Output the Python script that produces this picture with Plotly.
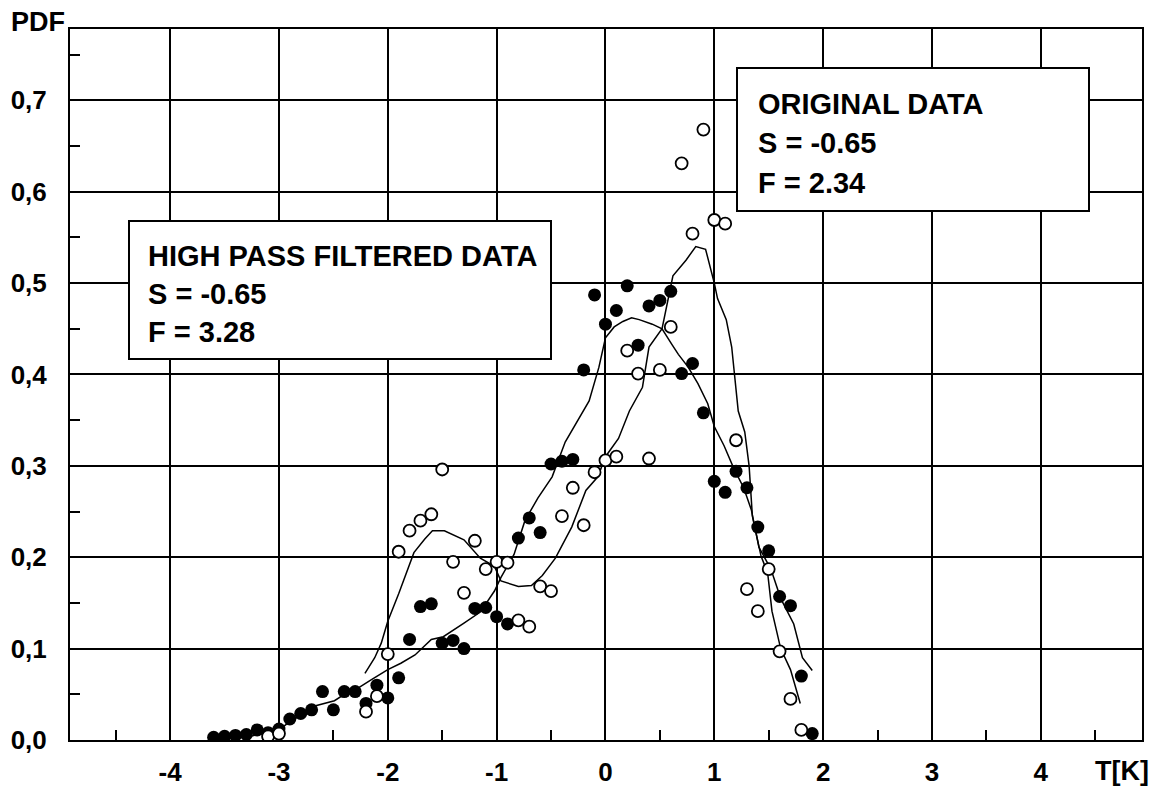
import plotly.graph_objects as go

# ---- data -------------------------------------------------------------
# high pass filtered data (filled circles)
hp_x = [-3.6, -3.5, -3.4, -3.3, -3.2, -3.1, -3.0, -2.9, -2.8, -2.7, -2.6, -2.5,
        -2.4, -2.3, -2.2, -2.1, -2.0, -1.9, -1.8, -1.7, -1.6, -1.5, -1.4, -1.3,
        -1.2, -1.1, -1.0, -0.9, -0.8, -0.7, -0.6, -0.5, -0.4, -0.3, -0.2, -0.1,
        0.0, 0.1, 0.2, 0.3, 0.4, 0.5, 0.6, 0.7, 0.8, 0.9, 1.0, 1.1, 1.2, 1.3,
        1.4, 1.5, 1.6, 1.7, 1.8, 1.9]
hp_y = [0.003, 0.004, 0.005, 0.006, 0.011, 0.008, 0.012, 0.023, 0.029, 0.033, 0.053, 0.033,
        0.053, 0.053, 0.040, 0.060, 0.046, 0.068, 0.110, 0.146, 0.149, 0.106, 0.109, 0.100,
        0.144, 0.145, 0.135, 0.127, 0.221, 0.243, 0.227, 0.302, 0.305, 0.307, 0.405, 0.487,
        0.455, 0.470, 0.497, 0.432, 0.475, 0.481, 0.491, 0.401, 0.412, 0.358, 0.283, 0.271,
        0.294, 0.276, 0.233, 0.207, 0.157, 0.147, 0.070, 0.007]

# original data (open circles)
org_x = [-3.1, -3.0, -2.2, -2.1, -2.0, -1.9, -1.8, -1.7, -1.6, -1.5, -1.4, -1.3,
         -1.2, -1.1, -1.0, -0.9, -0.8, -0.7, -0.6, -0.5, -0.4, -0.3, -0.2, -0.1,
         0.0, 0.1, 0.2, 0.3, 0.4, 0.5, 0.6, 0.7, 0.8, 0.9, 1.0, 1.1, 1.2, 1.3,
         1.4, 1.5, 1.6, 1.7, 1.8]
org_y = [0.004, 0.007, 0.031, 0.048, 0.094, 0.206, 0.229, 0.240, 0.247, 0.296, 0.195, 0.161,
         0.218, 0.187, 0.195, 0.194, 0.131, 0.124, 0.168, 0.163, 0.245, 0.276, 0.235, 0.293,
         0.306, 0.310, 0.426, 0.401, 0.308, 0.405, 0.452, 0.631, 0.554, 0.668, 0.569, 0.565,
         0.328, 0.165, 0.141, 0.187, 0.097, 0.045, 0.011]

# smoothed curve through the high pass filtered data
hp_fit_x = [-3.3, -3.0, -2.9, -2.8, -2.68, -2.49, -2.4, -2.27, -2.15, -2.0, -1.88, -1.75,
            -1.6, -1.49, -1.3, -1.15, -1.02, -0.96, -0.84, -0.74, -0.62, -0.49, -0.37,
            -0.27, -0.15, -0.06, 0.0, 0.08, 0.16, 0.24, 0.31, 0.43, 0.52, 0.61, 0.67,
            0.76, 0.85, 0.94, 1.0, 1.09, 1.18, 1.27, 1.34, 1.41, 1.52, 1.61, 1.73, 1.81, 1.9]
hp_fit_y = [0.003, 0.011, 0.020, 0.027, 0.037, 0.043, 0.050, 0.057, 0.066, 0.077, 0.084, 0.093,
            0.110, 0.113, 0.128, 0.140, 0.163, 0.178, 0.203, 0.240, 0.265, 0.288, 0.326,
            0.346, 0.371, 0.408, 0.440, 0.452, 0.458, 0.462, 0.460, 0.455, 0.450, 0.433, 0.422,
            0.408, 0.390, 0.368, 0.343, 0.322, 0.297, 0.276, 0.252, 0.211, 0.187, 0.155, 0.127,
            0.090, 0.076]

# smoothed curve through the original data
org_fit_x = [-2.21, -2.12, -2.06, -2.0, -1.9, -1.81, -1.76, -1.66, -1.59, -1.48, -1.3, -1.15,
             -1.02, -0.96, -0.8, -0.68, -0.58, -0.46, -0.31, -0.18, -0.07, 0.0, 0.12, 0.22,
             0.34, 0.4, 0.52, 0.62, 0.74, 0.83, 0.92, 1.0, 1.03, 1.11, 1.16, 1.22, 1.28, 1.32,
             1.35, 1.43, 1.49, 1.53, 1.61, 1.70, 1.79]
org_fit_y = [0.073, 0.090, 0.106, 0.130, 0.160, 0.190, 0.205, 0.220, 0.229, 0.229, 0.219, 0.199,
             0.190, 0.174, 0.168, 0.169, 0.180, 0.199, 0.233, 0.273, 0.288, 0.310, 0.330, 0.360,
             0.386, 0.430, 0.450, 0.508, 0.525, 0.540, 0.537, 0.500, 0.483, 0.460, 0.430, 0.360,
             0.337, 0.300, 0.245, 0.201, 0.183, 0.141, 0.100, 0.077, 0.040]

x_ticks = [-4, -3, -2, -1, 0, 1, 2, 3, 4]
y_ticks = [0.0, 0.1, 0.2, 0.3, 0.4, 0.5, 0.6, 0.7]
y_tick_text = ["0,0", "0,1", "0,2", "0,3", "0,4", "0,5", "0,6", "0,7"]

hp_label = ["HIGH PASS FILTERED DATA", "S = -0.65", "F = 3.28"]
org_label = ["ORIGINAL DATA", "S = -0.65", "F = 2.34"]

# ---- figure -----------------------------------------------------------
W, H = 1157, 787
M = dict(l=70, r=15, t=29, b=47)
FONT = "Liberation Sans, Arial, sans-serif"


def px(xp, yp):
    """Convert page pixels to paper coordinates."""
    pw = W - M["l"] - M["r"]
    ph = H - M["t"] - M["b"]
    return (xp - M["l"]) / pw, (H - M["b"] - yp) / ph


fig = go.Figure()

line_style = dict(color="black", width=1.5)
fig.add_trace(go.Scatter(x=hp_fit_x, y=hp_fit_y, mode="lines", line=line_style,
                         hoverinfo="skip"))
fig.add_trace(go.Scatter(x=org_fit_x, y=org_fit_y, mode="lines", line=line_style,
                         hoverinfo="skip"))
fig.add_trace(go.Scatter(x=hp_x, y=hp_y, mode="markers",
                         marker=dict(symbol="circle", size=13, color="black",
                                     line=dict(width=0))))
fig.add_trace(go.Scatter(x=org_x, y=org_y, mode="markers",
                         marker=dict(symbol="circle", size=12, color="white",
                                     line=dict(width=1.8, color="black"))))

axis_common = dict(showline=True, linecolor="black", linewidth=2, mirror=True,
                   showgrid=True, gridcolor="black", gridwidth=1.8, zeroline=False,
                   automargin=False, ticks="",
                   tickfont=dict(family=FONT, size=26, color="black", weight="bold"))

fig.update_xaxes(range=[-4.92, 4.93], tickmode="array", tickvals=x_ticks,
                 ticktext=[str(v) for v in x_ticks], ticklabelstandoff=8,
                 minor=dict(tickmode="linear", tick0=0.5, dtick=1, ticks="inside",
                            ticklen=10, tickwidth=1.5, tickcolor="black",
                            showgrid=False),
                 **axis_common)
fig.update_yaxes(range=[0, 0.778], tickmode="array", tickvals=y_ticks,
                 ticktext=y_tick_text, ticklabelstandoff=16,
                 minor=dict(tickmode="linear", tick0=0.05, dtick=0.1, ticks="inside",
                            ticklen=10, tickwidth=1.5, tickcolor="black",
                            showgrid=False),
                 **axis_common)

# text boxes
shapes = []
annotations = []
for (x0, y0, x1, y1), lines, tx, ty0, dy in [
    ((129, 221, 551, 359), hp_label, 146, 256, 38),
    ((737, 68, 1089, 211), org_label, 756, 104, 39.5),
]:
    a0, b0 = px(x0, y1)
    a1, b1 = px(x1, y0)
    shapes.append(dict(type="rect", xref="paper", yref="paper", x0=a0, y0=b0,
                       x1=a1, y1=b1, fillcolor="white",
                       line=dict(color="black", width=2), layer="above"))
    for i, t in enumerate(lines):
        ax, ay = px(tx, ty0 + i * dy)
        annotations.append(dict(xref="paper", yref="paper", x=ax, y=ay, text=t,
                                showarrow=False, xanchor="left", yanchor="middle",
                                font=dict(family=FONT, size=29, color="black",
                                          weight="bold")))

ax, ay = px(9, 22)
annotations.append(dict(xref="paper", yref="paper", x=ax, y=ay, text="PDF",
                        showarrow=False, xanchor="left", yanchor="middle",
                        font=dict(family=FONT, size=27, color="black", weight="bold")))
ax, ay = px(1151, 771)
annotations.append(dict(xref="paper", yref="paper", x=ax, y=ay, text="T[K]",
                        showarrow=False, xanchor="right", yanchor="middle",
                        font=dict(family=FONT, size=27, color="black", weight="bold")))

fig.update_layout(width=W, height=H, margin=dict(**M, pad=0, autoexpand=False),
                  showlegend=False, plot_bgcolor="white", paper_bgcolor="white",
                  shapes=shapes, annotations=annotations)

fig.write_html("out.html")
